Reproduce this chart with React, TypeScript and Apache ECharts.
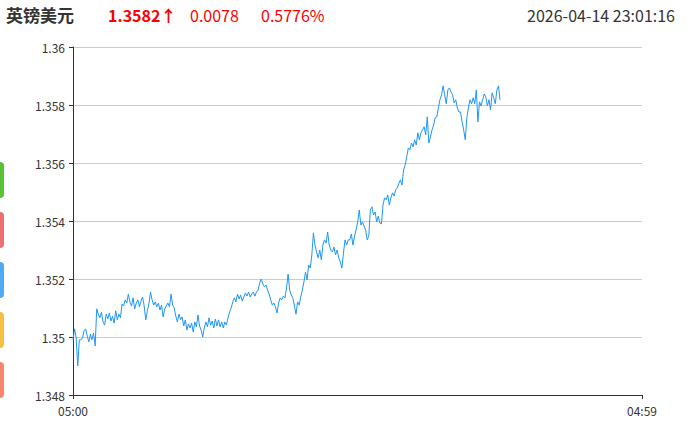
import React, { useEffect, useRef } from "react";
import * as echarts from "echarts";

// Session: GBP/USD intraday, 05:00 -> 04:59 next day, sampled every 4 minutes
const STEP_MIN = 4;
const SESSION_START = "05:00";
const SESSION_END = "04:59";
const yTicks = [1.348, 1.35, 1.352, 1.354, 1.356, 1.358, 1.36];

const prices = [
  1.3499, 1.35028, 1.34997, 1.349, 1.3499,
  1.3499, 1.34997, 1.35021, 1.35028, 1.35003,
  1.34983, 1.3501, 1.3499, 1.35014, 1.34969,
  1.35097, 1.35079, 1.35066, 1.35086, 1.35052,
  1.35041, 1.35079, 1.35062, 1.35083, 1.35055,
  1.35072, 1.35048, 1.3509, 1.35059, 1.35079,
  1.35066, 1.35114, 1.35107, 1.35128, 1.35117,
  1.35148, 1.35121, 1.35107, 1.35135, 1.35097,
  1.35117, 1.35128, 1.35104, 1.35124, 1.35138,
  1.35107, 1.35059, 1.3509, 1.35114, 1.35155,
  1.35128, 1.3511, 1.35121, 1.35104, 1.35117,
  1.35093, 1.3511, 1.35069, 1.35097, 1.35107,
  1.35117, 1.35104, 1.35148, 1.3511, 1.351,
  1.35072, 1.35052, 1.35079, 1.35059, 1.35069,
  1.35038, 1.35059, 1.35024, 1.35045, 1.35031,
  1.35048, 1.35017, 1.35052, 1.35035, 1.35076,
  1.35038, 1.35024, 1.35, 1.35031, 1.35052,
  1.35035, 1.35066, 1.35041, 1.35055, 1.35031,
  1.35062, 1.35038, 1.35059, 1.35035, 1.35052,
  1.35031, 1.35052, 1.35041, 1.35066, 1.35086,
  1.351, 1.35121, 1.35135, 1.35121, 1.35148,
  1.35131, 1.35145, 1.35124, 1.35138, 1.35152,
  1.35141, 1.35155, 1.35138, 1.35148, 1.35155,
  1.35141, 1.35155, 1.35162, 1.35186, 1.352,
  1.35183, 1.35173, 1.35179, 1.35162, 1.35148,
  1.35128, 1.3511, 1.35117, 1.35104, 1.35083,
  1.35117, 1.35135, 1.35128, 1.35141, 1.35135,
  1.35169, 1.35217, 1.35162, 1.35145, 1.35135,
  1.35107, 1.35079, 1.35121, 1.3511, 1.35138,
  1.35162, 1.3519, 1.35224, 1.35197, 1.35248,
  1.35238, 1.35283, 1.35359, 1.35317, 1.35293,
  1.35273, 1.353, 1.35266, 1.35317, 1.35335,
  1.35324, 1.35362, 1.35317, 1.353, 1.35293,
  1.3531, 1.35283, 1.353, 1.35273, 1.35259,
  1.35238, 1.3529, 1.35335, 1.35317, 1.35335,
  1.35335, 1.35355, 1.35317, 1.35348, 1.35369,
  1.35397, 1.35438, 1.35386, 1.35397, 1.35383,
  1.35369, 1.35335, 1.35348, 1.35438, 1.35449,
  1.35421, 1.35431, 1.35397, 1.35417, 1.35393,
  1.3539, 1.35455, 1.3548, 1.35473, 1.3549,
  1.35455, 1.3548, 1.35497, 1.35486, 1.35507,
  1.35514, 1.35528, 1.35542, 1.35524, 1.35576,
  1.35593, 1.35621, 1.35652, 1.35645, 1.35669,
  1.35656, 1.3568, 1.35662, 1.35704, 1.3568,
  1.35704, 1.35714, 1.35725, 1.35697, 1.35759,
  1.35669, 1.3569, 1.35714, 1.35731, 1.35756,
  1.35759, 1.3579, 1.35818, 1.35835, 1.35866,
  1.35835, 1.35804, 1.35852, 1.35859, 1.35845,
  1.35835, 1.35807, 1.35818, 1.3579, 1.35776,
  1.35776, 1.35742, 1.35714, 1.3568, 1.35756,
  1.3579, 1.35818, 1.35804, 1.35825, 1.35804,
  1.35852, 1.35742, 1.35811, 1.35797, 1.35818,
  1.35838, 1.35828, 1.35797, 1.35818, 1.35783,
  1.35842, 1.35825, 1.35804, 1.35852, 1.35866,
  1.35818,
];

const title = "英镑美元";
const lastPrice = "1.3582↑";
const change = "0.0078";
const changePct = "0.5776%";
const timestamp = "2026-04-14 23:01:16";
const tabColors = ["#57c236", "#ee6f6f", "#4ea9f6", "#f8c043", "#f8846d"];

const FONT = '"Noto Sans CJK SC", "Noto Sans", sans-serif';

function toMinutes(hhmm: string) {
  const [h, m] = hhmm.split(":").map(Number);
  return h * 60 + m;
}

export default function App() {
  const ref = useRef<HTMLDivElement>(null);
  useEffect(() => {
    if (!ref.current) return;
    const chart = echarts.init(ref.current, undefined, { renderer: "svg" });
    const start = toMinutes(SESSION_START);
    const end = toMinutes(SESSION_END);
    const span = (end - start + 1440) % 1440;
    const fmt = (v: number) => {
      const t = (start + Math.round(v)) % 1440;
      const h = Math.floor(t / 60);
      const m = t % 60;
      return `${String(h).padStart(2, "0")}:${String(m).padStart(2, "0")}`;
    };
    const tabs = tabColors.map((c, i) => ({
      type: "rect",
      shape: { x: -6, y: 162 + i * 50, width: 10, height: 36, r: 4 },
      style: { fill: c },
    }));
    chart.setOption({
      animation: false,
      textStyle: { fontFamily: FONT },
      grid: { left: 73, right: 50, top: 47, bottom: 31 },
      xAxis: {
        type: "value",
        min: 0,
        max: span,
        interval: span,
        axisLine: { show: true, lineStyle: { color: "#333", width: 1 } },
        axisTick: { show: true, length: 4, lineStyle: { color: "#333" } },
        splitLine: { show: false },
        axisLabel: {
          color: "#333",
          fontSize: 12,
          fontFamily: FONT,
          margin: 9,
          showMinLabel: true,
          showMaxLabel: true,
          formatter: (v: number) => fmt(v),
        },
      },
      yAxis: {
        type: "value",
        min: yTicks[0],
        max: yTicks[yTicks.length - 1],
        interval: 0.002,
        axisLine: { show: true, lineStyle: { color: "#333", width: 1 } },
        axisTick: { show: true, length: 4, lineStyle: { color: "#333" } },
        splitLine: { show: true, lineStyle: { color: "#ccc", width: 1 } },
        axisLabel: {
          color: "#333",
          fontSize: 12,
          fontFamily: FONT,
          margin: 8,
          formatter: (v: number) => String(parseFloat(v.toFixed(3))),
        },
      },
      series: [
        {
          type: "line",
          data: prices.map((p, i) => [i * STEP_MIN, p]),
          showSymbol: false,
          symbol: "none",
          lineStyle: { color: "#2196f3", width: 1 },
          itemStyle: { color: "#2196f3" },
        },
      ],
      graphic: [
        {
          type: "text",
          left: 6,
          top: 6,
          style: { text: title, font: `bold 17px ${FONT}`, fill: "#333" },
        },
        {
          type: "text",
          left: 108,
          top: 7,
          style: { text: lastPrice, font: `bold 16px ${FONT}`, fill: "#ff0000" },
        },
        {
          type: "text",
          left: 190,
          top: 7,
          style: { text: change, font: `16px ${FONT}`, fill: "#ff0000" },
        },
        {
          type: "text",
          left: 261,
          top: 7,
          style: { text: changePct, font: `16px ${FONT}`, fill: "#ff0000" },
        },
        {
          type: "text",
          right: 17,
          top: 7,
          style: { text: timestamp, font: `16px ${FONT}`, fill: "#333" },
        },
        ...tabs,
      ],
    });
    return () => chart.dispose();
  }, []);
  return (
    <div
      ref={ref}
      style={{ position: "fixed", left: 0, top: 0, width: 692, height: 426, background: "#fff" }}
    />
  );
}
